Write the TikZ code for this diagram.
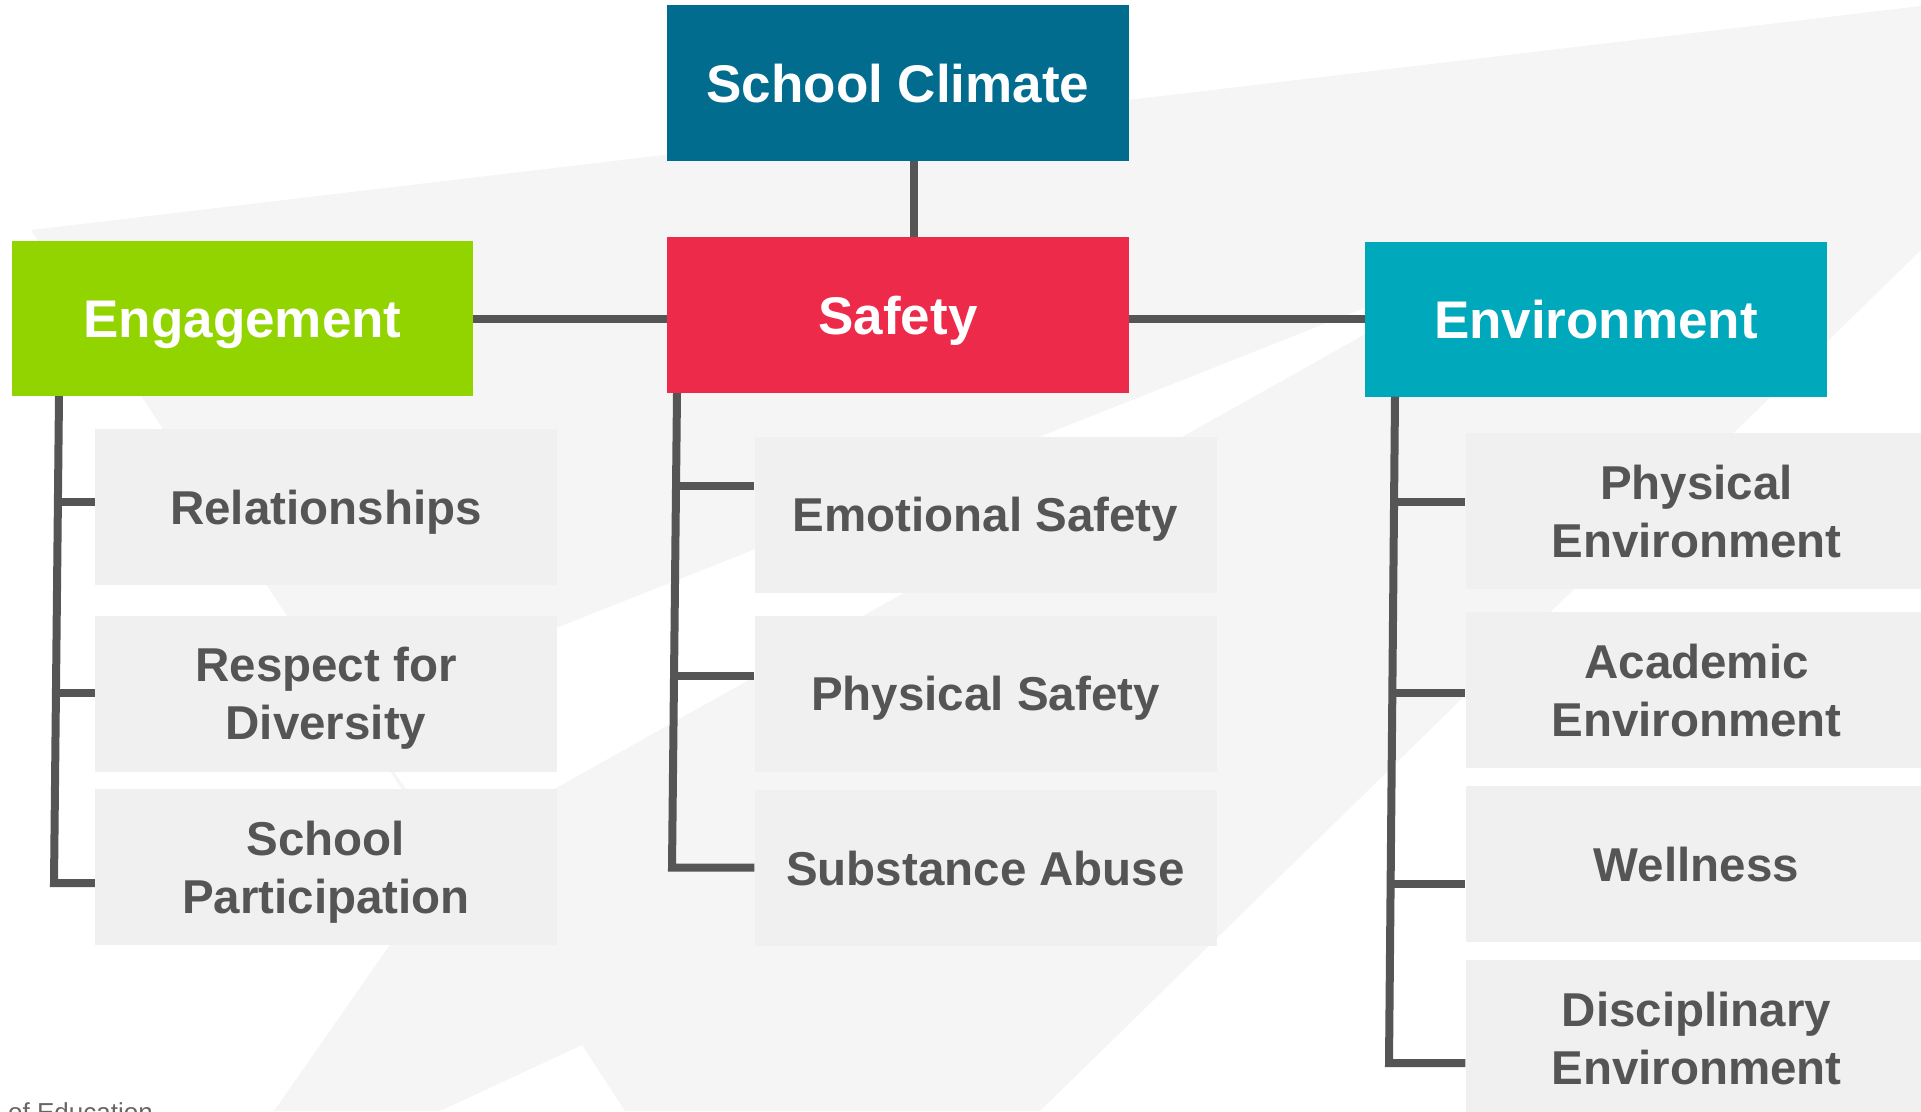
\documentclass[tikz,border=0pt]{standalone}
\usepackage{fontspec}
\setmainfont{Liberation Sans}
\usepackage{tikz}

\definecolor{climate}{HTML}{026C8E}
\definecolor{safety}{HTML}{EE2A4A}
\definecolor{engage}{HTML}{92D400}
\definecolor{environ}{HTML}{00A8BC}
\definecolor{leafgray}{HTML}{F0F0F0}
\definecolor{swoosh}{HTML}{F5F5F5}
\definecolor{linegray}{HTML}{555555}

\begin{document}
\begin{tikzpicture}[x=1pt,y=-1pt,
    head/.style={rectangle,inner sep=0pt,minimum width=462pt,minimum height=156pt,
      text height=38pt,text depth=0pt,text=white,font=\fontsize{53}{60}\selectfont\bfseries},
    leaf/.style={rectangle,fill=leafgray,inner sep=0pt,minimum width=462pt,minimum height=156pt,
      text height=34pt,text depth=0pt,align=center,text=linegray,font=\fontsize{47.5}{58}\selectfont\bfseries},
    leaftwo/.style={leaf,text height=92pt},
    trunk/.style={draw=linegray,line width=8pt,line join=miter}]
        \useasboundingbox (0,0) rectangle (1921,1111);
        \clip (0,0) rectangle (1921,1111);
        % faint swoosh behind the chart
        \fill[swoosh] (31,230) -- (1921,6) -- (1921,250) -- (1040,1111) -- (625,1111)
          -- (582,1045) -- (440,1111) -- (274,1111) -- (449,860) -- cycle;
        \fill[white] (349,710) -- (1524,245) -- (449,848) -- cycle;
        % top level
        \node[head,fill=climate] (top) at (898,83) {School Climate};
        \node[head,fill=engage,minimum width=461pt,minimum height=155pt] (eng) at (242.5,318.5) {Engagement};
        \node[head,fill=safety] (safe) at (898,315) {Safety};
        \node[head,fill=environ,minimum height=155pt] (env) at (1596,319) {Environment};
        % leaves
        \node[leaf] (rel) at (326,507) {Relationships};
        \node[leaftwo] (resp) at (326,693.5) {Respect for\\Diversity};
        \node[leaftwo] (part) at (326,867) {School\\Participation};
        \node[leaf] (emo) at (985.5,514.5) {Emotional Safety};
        \node[leaf] (phys) at (985.5,693.5) {Physical Safety};
        \node[leaf] (subst) at (985.5,868) {Substance Abuse};
        \node[leaftwo] (penv) at (1696.5,511) {Physical\\Environment};
        \node[leaftwo] (acad) at (1696.5,690) {Academic\\Environment};
        \node[leaf] (well) at (1696.5,864) {Wellness};
        \node[leaftwo] (disc) at (1696.5,1038) {Disciplinary\\Environment};
        % points on the trunks
        \coordinate (cx) at (914,0);
        \coordinate (e0) at (59,0);   \coordinate (e1) at (58,502);
        \coordinate (e2) at (56,693); \coordinate (e3) at (54,883);
        \coordinate (s0) at (677,0);  \coordinate (s1) at (676,486);
        \coordinate (s2) at (674,676); \coordinate (s3) at (672,867.5);
        \coordinate (v0) at (1395,0); \coordinate (v1) at (1394,502);
        \coordinate (v2) at (1392,693); \coordinate (v3) at (1391,884);
        \coordinate (v4) at (1389,1063);
        % connectors
        \draw[trunk] (top.south -| cx) -- (safe.north -| cx);
        \draw[trunk] (eng.east) -- (safe.west |- eng.east);
        \draw[trunk] (safe.east |- env.west) -- (env.west);
        \draw[trunk] (eng.south -| e0) -- (e3) -- (e3 -| part.west);
        \draw[trunk] (e1) -- (e1 -| rel.west);
        \draw[trunk] (e2) -- (e2 -| resp.west);
        \draw[trunk] (safe.south -| s0) -- (s3) -- (s3 -| subst.west);
        \draw[trunk] (s1) -- (s1 -| emo.west);
        \draw[trunk] (s2) -- (s2 -| phys.west);
        \draw[trunk] (env.south -| v0) -- (v4) -- (v4 -| disc.west);
        \draw[trunk] (v1) -- (v1 -| penv.west);
        \draw[trunk] (v2) -- (v2 -| acad.west);
        \draw[trunk] (v3) -- (v3 -| well.west);
        % footer, cut by the edge
        \node[anchor=base west,inner sep=0pt,text=linegray!90,font=\fontsize{26}{30}\selectfont] (foot) at (8,1121) {of Education};
\end{tikzpicture}
\end{document}
